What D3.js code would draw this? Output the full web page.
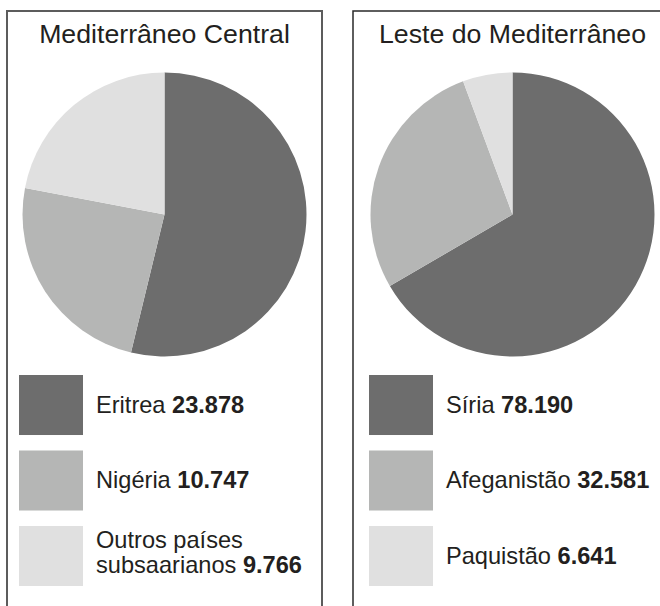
<!DOCTYPE html>
<html>
<head>
<meta charset="utf-8">
<script src="https://cdn.jsdelivr.net/npm/d3@7"></script>
<style>
  body { margin: 0; background: #fff; }
  svg { display: block; font-family: "Liberation Sans", Arial, sans-serif; }
</style>
</head>
<body>
<svg width="660" height="606"></svg>
<script>
// data
const centralTitle = 'Mediterrâneo Central';
const centralNames = ['Eritrea', 'Nigéria', 'Outros países\nsubsaarianos'];
const centralValues = [23878, 10747, 9766];

const lesteTitle = 'Leste do Mediterrâneo';
const lesteNames = ['Síria', 'Afeganistão', 'Paquistão'];
const lesteValues = [78190, 32581, 6641];

const colors = ['#6d6d6d', '#b5b6b5', '#e0e0e0'];

const ptBR = d3.formatLocale({decimal: ',', thousands: '.', grouping: [3], currency: ['', '']});
const fmt = ptBR.format(',');

const svg = d3.select('svg');

// panel frames (open at the bottom)
svg.append('path')
   .attr('d', 'M7,606V11H322V606')
   .attr('fill', 'none')
   .attr('stroke', '#5c5c5c')
   .attr('stroke-width', 2);
svg.append('path')
   .attr('d', 'M353,606V11H662')
   .attr('fill', 'none')
   .attr('stroke', '#2a2a2a')
   .attr('stroke-width', 1.5);

function drawPanel(title, names, values, cx, swatchX){
    const g = svg.append('g');
    g.append('text')
     .attr('x', cx).attr('y', 43)
     .attr('text-anchor', 'middle')
     .attr('font-size', 26.7)
     .attr('fill', '#231f20')
     .text(title);

    const pie = d3.pie().sort(null).value(d => d);
    const arc = d3.arc().innerRadius(0).outerRadius(142);
    g.append('g')
     .attr('transform', 'translate(' + cx + ',214.5)')
     .selectAll('path')
     .data(pie(values))
     .enter()
     .append('path')
     .attr('d', arc)
     .attr('fill', (d, i) => colors[i]);

    const y = d3.scaleBand().domain(d3.range(values.length)).range([375, 586]).paddingInner(0.205);
    const row = g.selectAll('g.row')
     .data(values)
     .enter()
     .append('g')
     .attr('class', 'row')
     .attr('transform', (d, i) => 'translate(' + swatchX + ',' + y(i) + ')');
    row.append('rect')
       .attr('width', 64)
       .attr('height', y.bandwidth())
       .attr('fill', (d, i) => colors[i]);
    row.each(function(d, i){
        const lines = names[i].split('\n');
        const mid = y.bandwidth() / 2;
        const t = d3.select(this).append('text')
            .attr('x', 77)
            .attr('font-size', 23.6)
            .attr('fill', '#231f20');
        lines.forEach((ln, k) => {
            const base = mid + 8 + (k - (lines.length - 1)) * 25 + (lines.length - 1) * 9;
            t.append('tspan').attr('x', 77).attr('y', base).text(ln);
            if (k == lines.length - 1){
                t.append('tspan').text(' ');
                t.append('tspan').attr('font-weight', 'bold').text(fmt(d));
            }
        });
    });
}

drawPanel(centralTitle, centralNames, centralValues, 164.5, 19);
drawPanel(lesteTitle, lesteNames, lesteValues, 512.5, 369);
</script>
</body>
</html>
